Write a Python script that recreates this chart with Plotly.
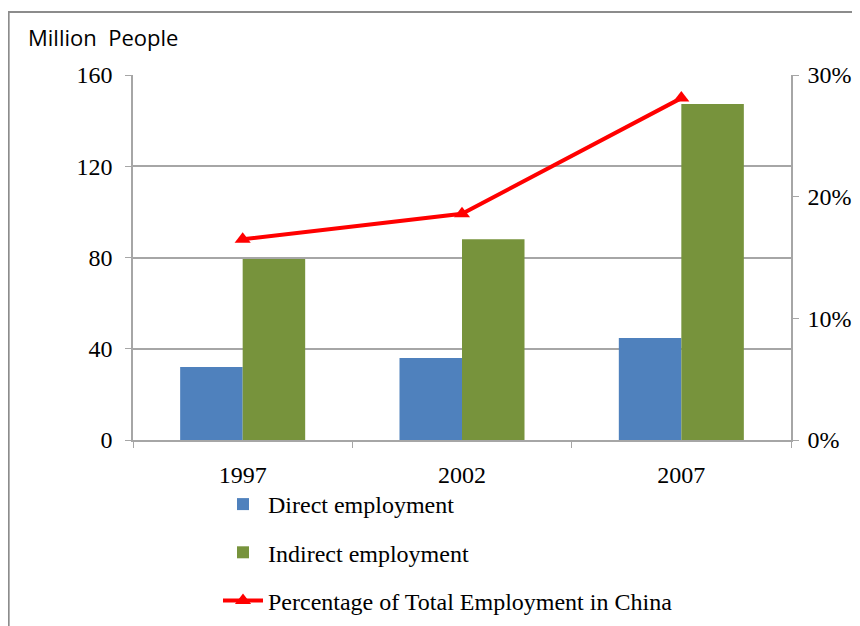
import plotly.graph_objects as go

years = ["1997", "2002", "2007"]
direct = [32, 36, 44.7]
indirect = [79.3, 88, 147.3]
pct = [0.165, 0.186, 0.281]

# page body has an 8px margin, so the figure is drawn 8px in from top-left
OFF = 8
W, H = 860 - OFF, 626 - OFF
L, R, T, B = 133 - OFF, 791 - OFF, 75 - OFF, 440 - OFF
pw, ph = R - L, B - T

serif = "Liberation Serif, Times New Roman, serif"
grid = "#a6a6a6"

fig = go.Figure()
fig.add_trace(go.Bar(x=years, y=direct, name="Direct employment",
                     marker=dict(color="#4f81bd", line=dict(width=0)), legendgroup="a"))
fig.add_trace(go.Bar(x=years, y=indirect, name="Indirect employment",
                     marker=dict(color="#77933c", line=dict(width=0)), legendgroup="b"))
fig.add_trace(go.Scatter(x=years, y=pct, name="Percentage of Total Employment in China",
                         yaxis="y2", mode="lines+markers",
                         line=dict(color="#ff0000", width=4),
                         marker=dict(symbol="triangle-up", size=14, color="#ff0000"),
                         legendgroup="c"))

fig.update_layout(
    width=W, height=H,
    margin=dict(l=L, r=W - R, t=T, b=H - B, pad=0, autoexpand=False),
    paper_bgcolor="white", plot_bgcolor="white",
    barmode="group", bargap=0.43, bargroupgap=0,
    font=dict(family=serif, size=24, color="black"),
    xaxis=dict(showline=True, linecolor=grid, linewidth=1.5, ticks="outside",
               tickson="boundaries", ticklen=6, tickcolor=grid, showgrid=False,
               ticklabelstandoff=12, tickfont=dict(family=serif, size=24)),
    yaxis=dict(range=[0, 160], dtick=40, showgrid=True, gridcolor=grid, gridwidth=1.5,
               showline=True, linecolor=grid, linewidth=1.5, ticks="outside",
               ticklen=6, tickcolor=grid, zeroline=False,
               ticklabelstandoff=8, tickfont=dict(family=serif, size=24)),
    yaxis2=dict(range=[0, 0.3], dtick=0.1, tickformat=".0%", overlaying="y", side="right",
                showgrid=False, showline=True, linecolor=grid, linewidth=1.5,
                ticks="outside", ticklen=6, tickcolor=grid, zeroline=False,
                ticklabelstandoff=4, tickfont=dict(family=serif, size=24)),
    legend=dict(x=(218 - OFF - L) / pw, y=1 - (482 - OFF) / H, yref="container",
                xanchor="left", yanchor="top",
                orientation="v", tracegroupgap=14, traceorder="grouped",
                font=dict(family=serif, size=24), bgcolor="rgba(0,0,0,0)", itemwidth=40),
    annotations=[dict(text="Million  People", xref="paper", yref="paper",
                      x=(26 - OFF - L) / pw, y=(B - (37 - OFF)) / ph, xanchor="left", yanchor="middle",
                      showarrow=False, font=dict(family="Open Sans, sans-serif", size=22))],
    shapes=[dict(type="rect", xref="paper", yref="paper",
                 x0=(8 - OFF - L) / pw + 0.001, x1=(W + 20 - L) / pw,
                 y0=(B - H - 20) / ph, y1=(B - (12 - OFF)) / ph,
                 line=dict(color="#8c8c8c", width=2), layer="below")],
)
fig.write_html("out.html")
